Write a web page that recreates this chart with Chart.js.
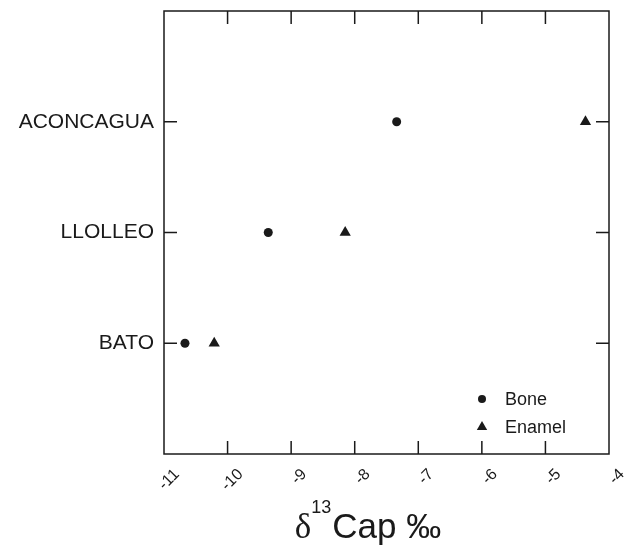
<!DOCTYPE html>
<html>
<head>
<meta charset="utf-8">
<script src="https://cdn.jsdelivr.net/npm/chart.js@4"></script>
<style>
  html, body { margin: 0; padding: 0; background: #fff; }
  #wrap { width: 629px; height: 547px; }
</style>
</head>
<body>
<div id="wrap"><canvas id="chart" width="629" height="547"></canvas></div>
<script>
const sites = ["BATO", "LLOLLEO", "ACONCAGUA"];
const bone = [-10.67, -9.36, -7.34];
const enamel = [-10.21, -8.15, -4.37];
const xTicks = [-11, -10, -9, -8, -7, -6, -5, -4];

const ink = "#1a1a1a";

// inward ticks + frame
const framePlugin = {
  id: "frame",
  afterDraw(chart) {
    const { ctx, chartArea: a, scales } = chart;
    const len = 13;
    ctx.save();
    ctx.strokeStyle = ink;
    ctx.lineWidth = 1.5;
    ctx.strokeRect(a.left, a.top, a.right - a.left, a.bottom - a.top);
    ctx.beginPath();
    xTicks.slice(1, -1).forEach(v => {
      const px = scales.x.getPixelForValue(v);
      ctx.moveTo(px, a.top); ctx.lineTo(px, a.top + len);
      ctx.moveTo(px, a.bottom); ctx.lineTo(px, a.bottom - len);
    });
    sites.forEach((s, i) => {
      const py = scales.y.getPixelForValue(i + 1);
      ctx.moveTo(a.left, py); ctx.lineTo(a.left + len, py);
      ctx.moveTo(a.right, py); ctx.lineTo(a.right - len, py);
    });
    ctx.stroke();
    ctx.restore();
  }
};

// legend inside the plot, bottom right
const legendPlugin = {
  id: "innerLegend",
  afterDraw(chart) {
    const { ctx, chartArea: a } = chart;
    ctx.save();
    ctx.font = "18px 'Liberation Sans', Arial, sans-serif";
    ctx.textBaseline = "middle";
    ctx.fillStyle = ink;
    chart.data.datasets.forEach((ds, i) => {
      const y = a.bottom - 55 + i * 28;
      Chart.helpers.drawPoint(ctx, {
        pointStyle: ds.pointStyle, radius: ds.pointRadius - 0.5, rotation: 0, borderWidth: 0
      }, a.right - 127, y);
      ctx.fillText(ds.label, a.right - 104, y + 1);
    });
    ctx.restore();
  }
};

// x axis title with superscript
const titlePlugin = {
  id: "xTitle",
  afterDraw(chart) {
    const { ctx, chartArea: a } = chart;
    const y = 538;
    const parts = [
      { t: "\u03B4", f: "35px 'Liberation Serif', 'Times New Roman', serif", dy: 0 },
      { t: "13", f: "18px 'Liberation Sans', Arial, sans-serif", dy: -25 },
      { t: "Cap \u2030", f: "35px 'Liberation Sans', Arial, sans-serif", dy: 0 }
    ];
    ctx.save();
    ctx.fillStyle = ink;
    ctx.textBaseline = "alphabetic";
    let total = 0;
    parts.forEach(p => { ctx.font = p.f; p.w = ctx.measureText(p.t).width; total += p.w; });
    let x = (a.left + a.right) / 2 - 19 - total / 2;
    parts.forEach((p, i) => {
      ctx.font = p.f;
      ctx.fillText(p.t, x, y + p.dy);
      x += p.w + (i === 1 ? 1 : 0);
    });
    ctx.restore();
  }
};

new Chart(document.getElementById("chart"), {
  type: "scatter",
  data: {
    datasets: [
      {
        label: "Bone",
        data: bone.map((v, i) => ({ x: v, y: i + 1 })),
        pointStyle: "circle",
        pointRadius: 4.5,
        backgroundColor: ink,
        borderWidth: 0
      },
      {
        label: "Enamel",
        data: enamel.map((v, i) => ({ x: v, y: i + 1 })),
        pointStyle: "triangle",
        pointRadius: 6.5,
        backgroundColor: ink,
        borderWidth: 0
      }
    ]
  },
  options: {
    responsive: false,
    animation: false,
    layout: { padding: { top: 11, right: 20, left: 0, bottom: 0 } },
    plugins: {
      legend: { display: false },
      tooltip: { enabled: false }
    },
    scales: {
      x: {
        type: "linear",
        min: -11,
        max: -4,
        afterBuildTicks(scale) { scale.ticks = xTicks.map(v => ({ value: v })); },
        afterFit(scale) {
          scale.height = 93;
          scale.paddingLeft = 0; scale.paddingRight = 0;
        },
        grid: { display: false, drawTicks: false },
        border: { display: false },
        ticks: {
          color: ink,
          font: { family: "'Liberation Sans', Arial, sans-serif", size: 16 },
          maxRotation: 45,
          minRotation: 45,
          padding: 11,
          labelOffset: 13,
          callback: v => String(v)
        }
      },
      y: {
        type: "linear",
        min: 0,
        max: 4,
        afterBuildTicks(scale) { scale.ticks = sites.map((s, i) => ({ value: i + 1 })); },
        afterFit(scale) {
          scale.width = 164;
          scale.paddingTop = 0; scale.paddingBottom = 0;
        },
        grid: { display: false, drawTicks: false },
        border: { display: false },
        ticks: {
          color: ink,
          font: { family: "'Liberation Sans', Arial, sans-serif", size: 21 },
          padding: 10,
          callback: v => sites[v - 1] || ""
        }
      }
    }
  },
  plugins: [framePlugin, legendPlugin, titlePlugin]
});
</script>
</body>
</html>
